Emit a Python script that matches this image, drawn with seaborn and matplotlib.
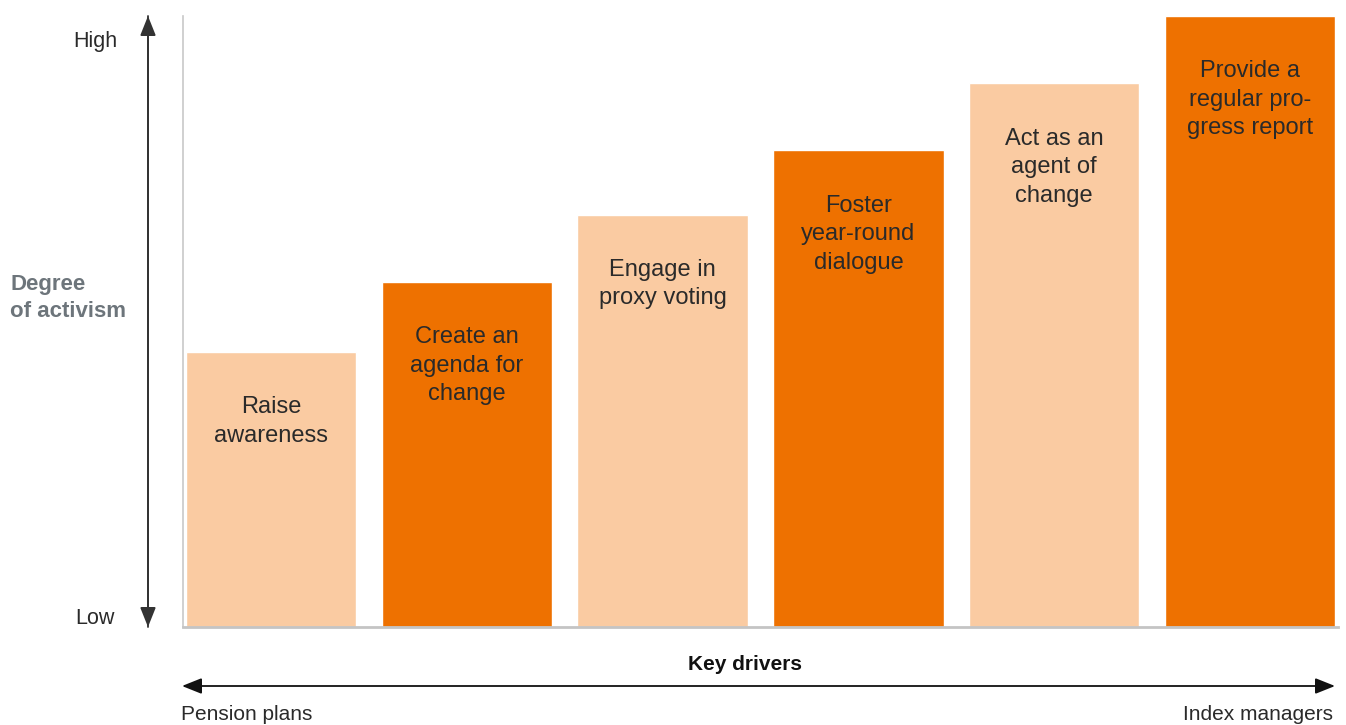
import matplotlib
matplotlib.use("Agg")
import matplotlib.pyplot as plt
import seaborn as sns
import pandas as pd

categories = ["Raise\nawareness", "Create an\nagenda for\nchange", "Engage in\nproxy voting",
              "Foster\nyear-round\ndialogue", "Act as an\nagent of\nchange",
              "Provide a\nregular pro-\ngress report"]
values = [45, 56.5, 67.5, 78, 89, 100]
bar_colors = ["#FACBA2", "#EE7100", "#FACBA2", "#EE7100", "#FACBA2", "#EE7100"]
y_labels = ["Low", "High"]
y_title = "Degree\nof activism"
x_title = "Key drivers"
x_ends = ["Pension plans", "Index managers"]

sns.set_theme(style="white")
plt.rcParams["font.family"] = ["Liberation Sans", "DejaVu Sans"]

df = pd.DataFrame({"cat": categories, "val": values})

fig = plt.figure(figsize=(13.46, 7.25), dpi=100)
ax = fig.add_axes([183/1346, 1-627/725, (1338-183)/1346, (627-16)/725])
sns.barplot(data=df, x="cat", y="val", hue="cat", palette=bar_colors,
            width=0.87, legend=False, ax=ax, saturation=1)
ax.set_xlim(-0.45, 5.45)
ax.set_ylim(0, 100)
ax.set_xticks([])
ax.set_yticks([])
ax.set_xlabel("")
ax.set_ylabel("")
for s in ["top", "right"]:
    ax.spines[s].set_visible(False)
ax.spines["left"].set_color("#c8c8c8")
ax.spines["left"].set_linewidth(1.2)
ax.spines["bottom"].set_color("#c4c4c4")
ax.spines["bottom"].set_linewidth(2)

for i, (lab, v) in enumerate(zip(categories, values)):
    ax.annotate(lab, xy=(i, v), xytext=(0, -32), textcoords="offset points",
                ha="center", va="top", fontsize=17, color="#2a2a2a",
                linespacing=1.38)

def fx(px):
    return px / 1346

def fy(py):
    return 1 - py / 725

arrow_kw = dict(transform=fig.transFigure, mutation_scale=12,
                lw=1.3, shrinkA=0, shrinkB=0)
style = "-|>,head_length=1.0,head_width=0.4"
fig.add_artist(matplotlib.patches.FancyArrowPatch(
    (fx(148), fy(627)), (fx(148), fy(16)), arrowstyle=style, color="#333333", **arrow_kw))
fig.add_artist(matplotlib.patches.FancyArrowPatch(
    (fx(148), fy(16)), (fx(148), fy(627)), arrowstyle=style, color="#333333", **arrow_kw))
fig.add_artist(matplotlib.patches.FancyArrowPatch(
    (fx(182), fy(686)), (fx(1335), fy(686)),
    arrowstyle="<|-|>,head_length=1.0,head_width=0.4", color="#111111", **arrow_kw))

fig.text(fx(117), fy(41), y_labels[1], ha="right", va="center", fontsize=15.5,
         color="#2a2a2a")
fig.text(fx(115), fy(619), y_labels[0], ha="right", va="center", fontsize=15.5,
         color="#2a2a2a")
fig.text(fx(10), fy(298), y_title, ha="left", va="center", fontsize=16,
         color="#6d757b", fontweight="bold", linespacing=1.35)
fig.text(fx(745), fy(664), x_title, ha="center", va="center", fontsize=15,
         color="#111111", fontweight="bold")
fig.text(fx(181), fy(715), x_ends[0], ha="left", va="center", fontsize=15,
         color="#2a2a2a")
fig.text(fx(1333), fy(715), x_ends[1], ha="right", va="center", fontsize=15,
         color="#2a2a2a")

fig.savefig("out.png", dpi=100)
